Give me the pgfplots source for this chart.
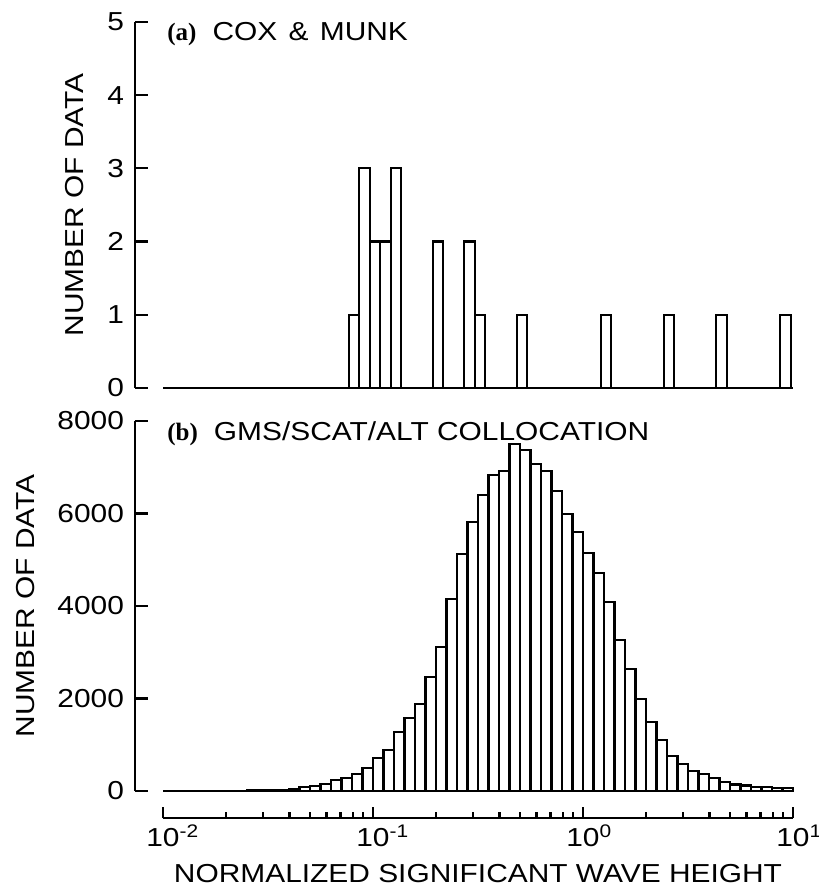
\documentclass[border=0pt]{standalone}
\usepackage{fontspec}
\setmainfont{Liberation Sans}[FakeStretch=1.15]
\newfontfamily\serifb{Liberation Serif}
\usepackage{pgfplots}
\pgfplotsset{compat=1.18}
\usepackage{pgfplotstable}

% (a) Cox & Munk: bin edges and counts (last y unused)
\pgfplotstableread{
x y
0.07674 1
0.08610 3
0.09661 2
0.10839 2
0.12162 3
0.13646 0
0.19275 2
0.21627 0
0.27227 2
0.30549 1
0.34277 0
0.48417 1
0.54325 0
1.2162 1
1.3646 0
2.4266 1
2.7227 0
4.3152 1
4.8417 0
8.7096 1
9.7724 0
}\coxmunk

% (b) GMS/SCAT/ALT collocation: 0.05-decade bins
\pgfplotstableread{
x y
0.01 0
0.011220 0
0.012589 0
0.014125 0
0.015849 0
0.017783 2
0.019953 4
0.022387 6
0.025119 10
0.028184 15
0.031623 20
0.035481 30
0.039811 50
0.044668 86
0.050119 108
0.056234 159
0.063096 230
0.070795 288
0.079433 375
0.089125 504
0.1 706
0.11220 886
0.12589 1275
0.14125 1585
0.15849 1874
0.17783 2465
0.19953 3113
0.22387 4158
0.25119 5131
0.28184 5816
0.31623 6400
0.35481 6825
0.39811 6918
0.44668 7509
0.50119 7366
0.56234 7063
0.63096 6918
0.70795 6486
0.79433 5996
0.89125 5607
1 5139
1.1220 4720
1.2589 4093
1.4125 3265
1.5849 2631
1.7783 1982
1.9953 1499
2.2387 1096
2.5119 757
2.8184 591
3.1623 432
3.5481 360
3.9811 274
4.4668 195
5.0119 140
5.6234 120
6.3096 90
7.0795 80
7.9433 70
8.9125 60
10 0
}\collocation

\newcommand{\lbl}{\fontsize{13}{15}\selectfont}

\pgfplotsset{
  mypanel/.style={
    scale only axis, width=329pt,
    xmin=0.007356, xmax=10,
    axis x line=none, axis y line*=left,
    ytick align=inside, major tick length=6.5pt,
    enlargelimits=false, clip=false,
    axis line style={line width=1.3pt},
    tick style={line width=1.1pt, black},
    yticklabel style={font=\lbl, xshift=-2pt},
    /pgf/number format/assume math mode=true,
    /pgf/number format/1000 sep={},
    scaled y ticks=false,
  },
}

\begin{document}
\begin{tikzpicture}
  % (a)
  \begin{semilogxaxis}[mypanel, at={(67.5pt,251pt)}, anchor=south west, height=183pt,
      ymin=0, ymax=5, ytick={0,1,2,3,4,5},
      ylabel={NUMBER OF DATA},
      ylabel style={font=\lbl, at={(axis description cs:-0.0912,0.5)}, anchor=center}]
    \addplot[ybar interval, draw=black, fill=white, line width=1.1pt] table {\coxmunk};
    \addplot[black, line width=1.1pt] coordinates {(0.01,0) (10,0)};
    \node[anchor=north west, inner sep=0pt, font=\lbl] at (rel axis cs:0.0486,1)
      {{\serifb\bfseries\fontsize{12.5}{14}\selectfont (a)}\hspace{8pt}COX\hspace{1.5pt} \&\hspace{1.5pt} MUNK};
  \end{semilogxaxis}

  % (b)
  \begin{semilogxaxis}[mypanel, at={(67.5pt,49.5pt)}, anchor=south west, height=185pt,
      ymin=0, ymax=8000, ytick={0,2000,4000,6000,8000},
      ylabel={NUMBER OF DATA},
      ylabel style={font=\lbl, at={(axis description cs:-0.167,0.5)}, anchor=center}]
    \addplot[ybar interval, draw=black, fill=white, line width=1.1pt] table {\collocation};
    \addplot[black, line width=1.1pt] coordinates {(0.01,0) (10,0)};
    \node[anchor=north west, inner sep=0pt, font=\lbl] at (rel axis cs:0.0486,1)
      {{\serifb\bfseries\fontsize{12.5}{14}\selectfont (b)}\hspace{8pt}GMS/SCAT/ALT COLLOCATION};
  \end{semilogxaxis}

  % shared x axis, set below the histogram
  \begin{semilogxaxis}[scale only axis, at={(81.5pt,36pt)}, anchor=south west,
      width=315pt, height=20pt,
      xmin=0.01, xmax=10, ymin=0, ymax=1,
      axis x line*=bottom, axis y line=none,
      axis line style={line width=1.3pt},
      tick style={line width=1.1pt, black},
      xtick align=inside, major tick length=5.5pt, minor tick length=3.25pt,
      xtick={0.01,0.1,1,10},
      minor xtick={0.02,0.03,0.04,0.05,0.06,0.07,0.08,0.09,0.2,0.3,0.4,0.5,0.6,0.7,0.8,0.9,2,3,4,5,6,7,8,9},
      xticklabels={10\rlap{\textsuperscript{-2}},10\rlap{\textsuperscript{-1}},10\rlap{\textsuperscript{0}},10\rlap{\textsuperscript{1}}},
      xticklabel style={font=\lbl},
      xlabel={NORMALIZED SIGNIFICANT WAVE HEIGHT},
      xlabel style={font=\lbl, at={(rel axis cs:0.5,0)}, anchor=center, yshift=-28pt}]
    \addplot[draw=none] coordinates {(1,0)};
  \end{semilogxaxis}

  \pgfresetboundingbox
  \path[use as bounding box] (0,0) rectangle (409.5pt,445pt);
\end{tikzpicture}
\end{document}
